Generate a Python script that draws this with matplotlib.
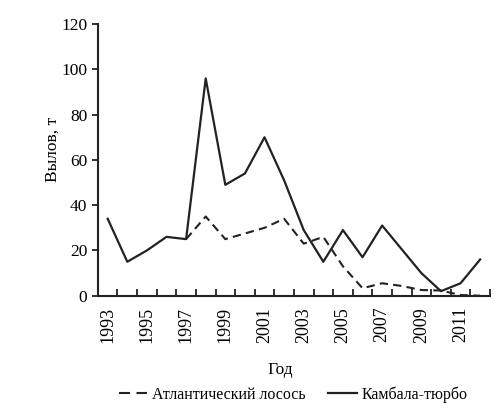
import numpy as np
from matplotlib import pyplot as plt
from matplotlib.ticker import FixedLocator

# Data
years = list(range(1993, 2013))
turbot = [34, 15, 20, 26, 25, 96, 49, 54, 70, 51, 29, 15, 29, 17, 31, 20.5, 10, 2, 5.5, 16]
salmon_years = list(range(1997, 2013))
salmon = [25, 35, 25, 27.5, 30, 34, 23, 26, 13, 3.3, 5.5, 4.3, 2.5, 2.3, 0.3, 0]

label_years = years[::2]

plt.rcParams['font.family'] = ['Liberation Serif', 'DejaVu Serif']

fig = plt.figure(figsize=(5.02, 4.09), dpi=100)
ax = fig.add_axes([0.195, 0.277, 0.781, 0.664])

x_turbot = np.arange(len(years))
x_salmon = np.array([years.index(y) for y in salmon_years])

ink = '#222222'
ax.plot(x_salmon, salmon, color=ink, lw=1.5, linestyle=(0, (4, 2.5)),
        label='Атлантический лосось')
ax.plot(x_turbot, turbot, color=ink, lw=1.6, label='Камбала-тюрбо')

ax.set_xlim(-0.5, len(years) - 0.5)
ax.set_ylim(0, 120)
ax.set_yticks(np.arange(0, 121, 20))

# year labels at the category centres, tick marks at the boundaries
ax.set_xticks([years.index(y) for y in label_years])
ax.set_xticklabels([str(y) for y in label_years], rotation=90)
ax.xaxis.set_minor_locator(FixedLocator(np.arange(-0.5, len(years), 1.0)))
ax.tick_params(axis='x', which='major', length=0, pad=8, labelsize=13)
ax.tick_params(axis='x', which='minor', direction='in', length=5, width=1.3, color=ink)
ax.tick_params(axis='y', direction='out', length=4, width=1.3, color=ink, labelsize=12.5)

for s in ['top', 'right']:
    ax.spines[s].set_visible(False)
for s in ['left', 'bottom']:
    ax.spines[s].set_linewidth(1.5)
    ax.spines[s].set_color(ink)
ax.spines['bottom'].set_zorder(0)

ax.set_ylabel('Вылов, т', fontsize=12.5)
ax.yaxis.set_label_coords(-0.094, 0.537)
ax.set_xlabel('Год', fontsize=12.5)
ax.xaxis.set_label_coords(0.464, -0.245)

leg = fig.legend(loc='center', bbox_to_anchor=(0.584, 0.035), ncol=2, frameon=False,
                 fontsize=11.5, handlelength=1.8, handletextpad=0.3, columnspacing=1.4)
leg.get_lines()[0].set_dashes([5.3, 3.1])

fig.savefig('out.png', dpi=100, facecolor='white')
